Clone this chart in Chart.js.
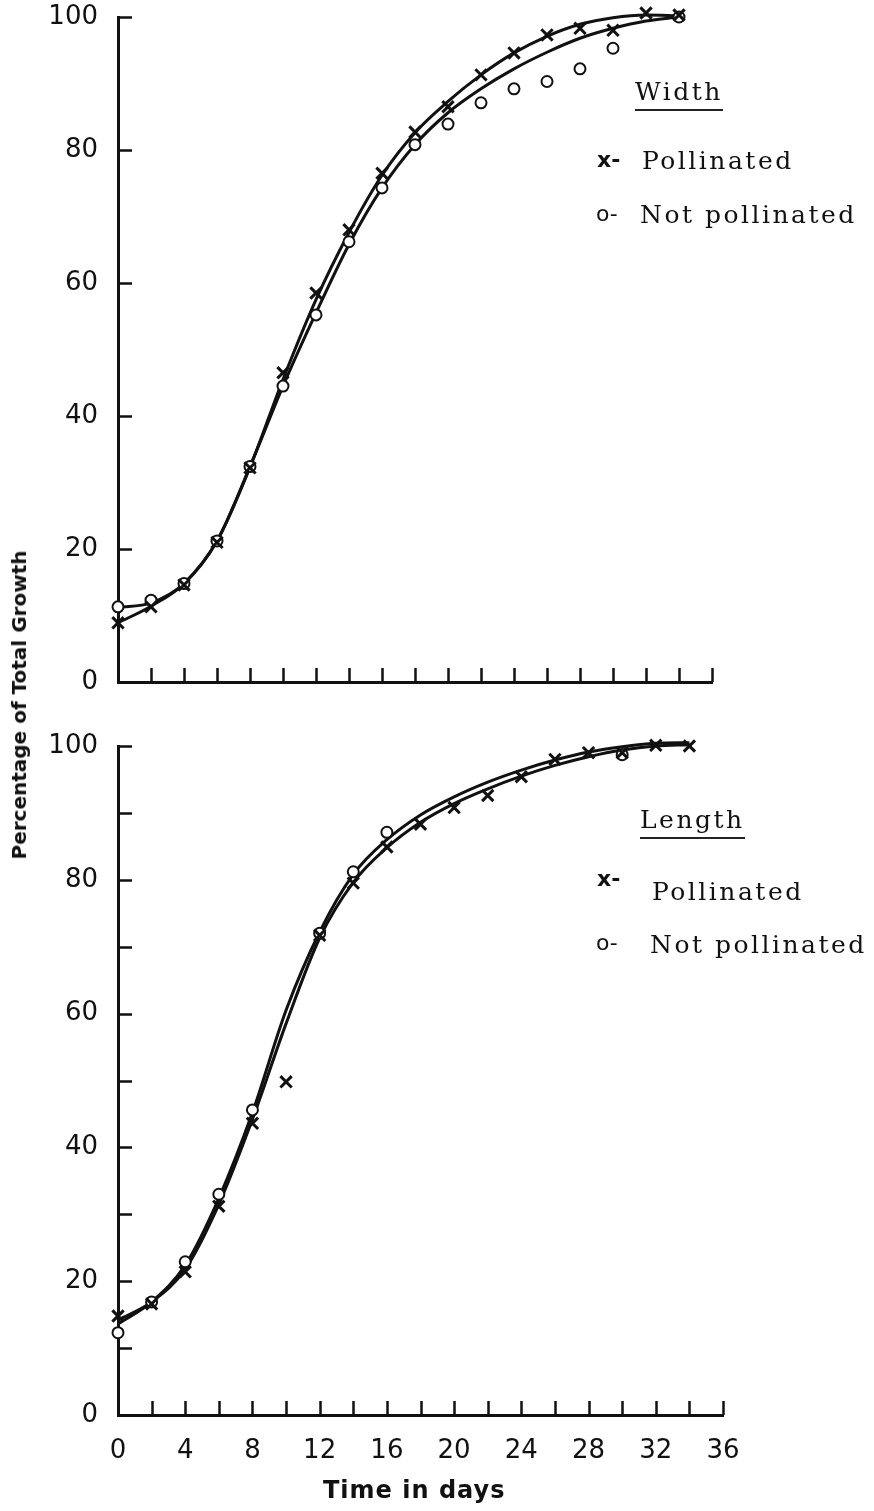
<!DOCTYPE html>
<html>
<head>
<meta charset="utf-8">
<script src="https://cdn.jsdelivr.net/npm/chart.js@4.4.1/dist/chart.umd.min.js"></script>
<style>
    body { margin: 0; background: #fff; }
    #page { position: relative; width: 874px; height: 1511px; overflow: hidden; background: #fff; }
    canvas { position: absolute; left: 0; }
    .txt { position: absolute; white-space: nowrap; line-height: 1; color: #111; }
    .serif { font-family: 'DejaVu Serif', serif; font-size: 25px; letter-spacing: 2.5px; }
    .head { border-bottom: 2px solid #222; padding-bottom: 5px; }
    .sym { font-family: 'DejaVu Sans', sans-serif; font-size: 22px; }
    .axis-title { font-family: 'DejaVu Sans', sans-serif; font-weight: bold; }
</style>
</head>
<body>
<div id="page">
    <canvas id="widthChart" width="874" height="730" style="top:-20px"></canvas>
    <canvas id="lengthChart" width="874" height="799" style="top:712px"></canvas>

    <div class="txt serif head" style="left:635px; top:79px;">Width</div>
    <div class="txt sym" style="left:597px; top:149px; font-weight:bold;">x-</div>
    <div class="txt serif" style="left:642px; top:148px;">Pollinated</div>
    <div class="txt sym" style="left:596px; top:203px;">o-</div>
    <div class="txt serif" style="left:640px; top:202px;">Not pollinated</div>

    <div class="txt serif head" style="left:640px; top:807px;">Length</div>
    <div class="txt sym" style="left:597px; top:868px; font-weight:bold;">x-</div>
    <div class="txt serif" style="left:652px; top:879px;">Pollinated</div>
    <div class="txt sym" style="left:596px; top:932px;">o-</div>
    <div class="txt serif" style="left:650px; top:932px;">Not pollinated</div>

    <div class="txt axis-title" style="left:323px; top:1478px; font-size:24px; letter-spacing:1px;">Time in days</div>
    <div class="txt axis-title" style="left:19px; top:705px; font-size:20px; transform:translate(-50%,-50%) rotate(-90deg);">Percentage of Total Growth</div>
</div>

<script>
// sampling days (every 2 days)
const days = [0, 2, 4, 6, 8, 10, 12, 14, 16, 18, 20, 22, 24, 26, 28, 30, 32, 34];

// Width: plotted observations
const widthPollinated    = [8.9, 11.3, 14.6, 21.0, 32.2, 46.5, 58.5, 68.0, 76.5, 82.7, 86.5, 91.3, 94.6, 97.3, 98.3, 98.0, 100.6, 100.3];
const widthNotPollinated = [11.3, 12.3, 14.8, 21.2, 32.4, 44.5, 55.2, 66.2, 74.3, 80.8, 83.9, 87.1, 89.2, 90.3, 92.2, 95.3, null, 100.0];
// Width: fitted curves
const widthPollinatedCurve    = [8.9, 11.4, 14.8, 21.2, 32.3, 45.5, 57.5, 67.6, 76.2, 82.6, 87.3, 91.3, 94.6, 97.1, 98.9, 99.9, 100.3, 100.2];
const widthNotPollinatedCurve = [11.2, 11.9, 14.8, 21.2, 32.4, 44.5, 55.5, 65.8, 74.3, 80.8, 85.6, 89.2, 92.2, 94.7, 96.8, 98.3, 99.4, 100.0];

// Length: plotted observations
const lengthPollinated    = [14.8, 16.6, 21.4, 31.2, 43.6, 49.8, 71.7, 79.5, 84.9, 88.3, 90.8, 92.6, 95.4, 98.0, 99.0, 99.0, 100.1, 100.0];
const lengthNotPollinated = [12.3, 16.9, 22.9, 33.0, 45.6, null, 72.0, 81.2, 87.1, null, null, null, null, null, null, 98.7, null, null];
// Length: fitted curves
const lengthPollinatedCurve    = [14.2, 16.9, 21.8, 31.5, 44.2, 58.5, 71.3, 79.6, 84.8, 88.6, 91.4, 93.6, 95.5, 97.1, 98.4, 99.4, 100.0, 100.2];
const lengthNotPollinatedCurve = [13.6, 16.9, 22.4, 32.4, 45.2, 60.5, 72.2, 80.8, 86.0, 89.7, 92.4, 94.6, 96.4, 97.9, 99.1, 99.9, 100.4, 100.5];

// tick labels
const xLabelDays = [0, 4, 8, 12, 16, 20, 24, 28, 32, 36];
const yLabelValues = [0, 20, 40, 60, 80, 100];

const INK = '#111';
const toPoints = vals => days.map((d, i) => ({ x: d, y: vals[i] }));

// tick marks pointing into the plot, like the printed figure
const inwardTicks = {
    id: 'inwardTicks',
    afterDraw(chart) {
        const { ctx, chartArea, scales: { x, y } } = chart;
        ctx.save();
        ctx.strokeStyle = INK;
        ctx.lineWidth = 2.5;
        ctx.beginPath();
        x.ticks.forEach(t => {
            if (t.value === x.min) return;
            const px = Math.round(x.getPixelForValue(t.value)) + 0.5;
            ctx.moveTo(px, chartArea.bottom);
            ctx.lineTo(px, chartArea.bottom - 14);
        });
        y.ticks.forEach(t => {
            if (t.value === y.min) return;
            const py = Math.round(y.getPixelForValue(t.value)) + 0.5;
            ctx.moveTo(chartArea.left, py);
            ctx.lineTo(chartArea.left + 14, py);
        });
        ctx.stroke();
        ctx.restore();
    }
};

function makeChart(id, opts) {
    const ctx = document.getElementById(id).getContext('2d');
    return new Chart(ctx, {
        type: 'scatter',
        data: {
            datasets: [
                {
                    data: toPoints(opts.pollinated),
                    pointStyle: 'crossRot', pointRadius: 8, pointBorderWidth: 3,
                    borderColor: INK, backgroundColor: INK, clip: false, order: 0
                },
                {
                    data: toPoints(opts.notPollinated),
                    pointStyle: 'circle', pointRadius: 5.5, pointBorderWidth: 2,
                    borderColor: INK, backgroundColor: '#fff', clip: false, order: 0
                },
                {
                    data: toPoints(opts.pollinatedCurve), showLine: true,
                    pointRadius: 0, borderColor: INK, borderWidth: 3,
                    cubicInterpolationMode: 'monotone', clip: false, order: 1
                },
                {
                    data: toPoints(opts.notPollinatedCurve), showLine: true,
                    pointRadius: 0, borderColor: INK, borderWidth: 3,
                    cubicInterpolationMode: 'monotone', clip: false, order: 1
                }
            ]
        },
        options: {
            responsive: false,
            devicePixelRatio: 1,
            animation: false,
            events: [],
            layout: { padding: { top: opts.top, right: opts.right, left: 0, bottom: 0 } },
            plugins: { legend: { display: false }, tooltip: { enabled: false } },
            scales: {
                x: {
                    type: 'linear', min: 0, max: 36,
                    grid: { display: false },
                    border: { display: true, color: INK, width: 3 },
                    ticks: {
                        stepSize: 2, autoSkip: false, maxRotation: 0,
                        display: opts.showX, padding: 13, color: INK,
                        font: { family: 'DejaVu Sans', size: 26 },
                        callback: v => xLabelDays.includes(v) ? v : ''
                    },
                    afterFit: s => { s.height = opts.xHeight; }
                },
                y: {
                    min: 0, max: 100,
                    grid: { display: false },
                    border: { display: true, color: INK, width: 3 },
                    ticks: {
                        stepSize: opts.yStep, autoSkip: false, padding: 12, color: INK,
                        font: { family: 'DejaVu Sans', size: 26 },
                        callback: v => yLabelValues.includes(v) ? v : ''
                    },
                    afterFit: s => { s.width = 118; }
                }
            }
        },
        plugins: [inwardTicks]
    });
}

// top panel: plot area x 118..712, y 17..682 (canvas starts at -20)
makeChart('widthChart', {
    pollinated: widthPollinated, notPollinated: widthNotPollinated,
    pollinatedCurve: widthPollinatedCurve, notPollinatedCurve: widthNotPollinatedCurve,
    top: 17 + 20, right: 874 - 712, xHeight: 730 - (682 + 20), showX: false, yStep: 20
});

// bottom panel: plot area x 118..723, y 746..1415 (canvas starts at 712)
makeChart('lengthChart', {
    pollinated: lengthPollinated, notPollinated: lengthNotPollinated,
    pollinatedCurve: lengthPollinatedCurve, notPollinatedCurve: lengthNotPollinatedCurve,
    top: 746 - 712, right: 874 - 723, xHeight: 799 - (1415 - 712), showX: true, yStep: 10
});
</script>
</body>
</html>
